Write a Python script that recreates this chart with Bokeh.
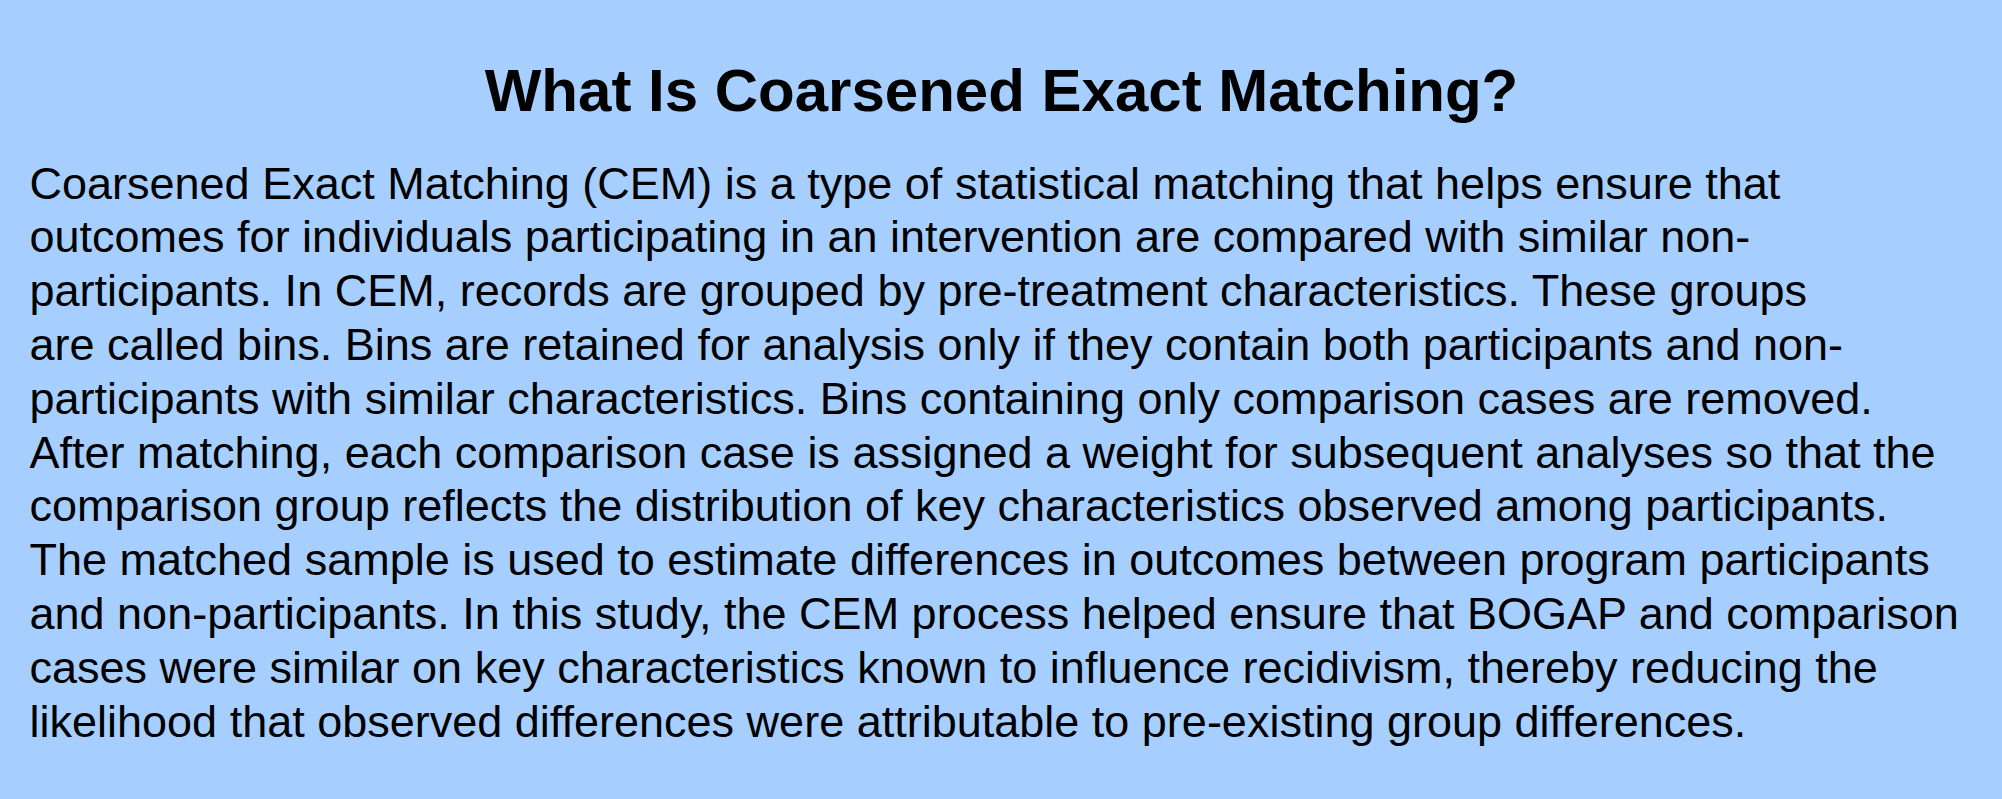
from bokeh.plotting import figure
from bokeh.models import Range1d, ColumnDataSource
from bokeh.core.properties import value
from bokeh.embed import file_html
from bokeh.resources import INLINE

TITLE = "What Is Coarsened Exact Matching?"
BODY_LINES = [
    "Coarsened Exact Matching (CEM) is a type of statistical matching that helps ensure that",
    "outcomes for individuals participating in an intervention are compared with similar non-",
    "participants. In CEM, records are grouped by pre-treatment characteristics. These groups",
    "are called bins. Bins are retained for analysis only if they contain both participants and non-",
    "participants with similar characteristics. Bins containing only comparison cases are removed.",
    "After matching, each comparison case is assigned a weight for subsequent analyses so that the",
    "comparison group reflects the distribution of key characteristics observed among participants.",
    "The matched sample is used to estimate differences in outcomes between program participants",
    "and non-participants. In this study, the CEM process helped ensure that BOGAP and comparison",
    "cases were similar on key characteristics known to influence recidivism, thereby reducing the",
    "likelihood that observed differences were attributable to pre-existing group differences.",
]

W, H = 2002, 799
BG = "#a6cfff"
FONT = "Liberation Sans"
K = 0.3  # baseline correction (em)

p = figure(width=W, height=H, x_range=Range1d(0, W), y_range=Range1d(H, 0),
           output_backend="svg", toolbar_location=None, min_border=0,
           title_location=None, x_axis_location=None, y_axis_location=None)
p.grid.visible = False
p.outline_line_color = None
p.background_fill_color = BG
p.border_fill_color = BG

title_size = 60
p.text(x=[W / 2], y=[108 - K * title_size], text=[TITLE], text_font=value(FONT),
       text_font_size=f"{title_size}px", text_font_style="bold", text_color="black",
       text_align="center", text_baseline="alphabetic")

body_size = 45
top, step = 196, 53.8
src = ColumnDataSource(dict(
    x=[29] * len(BODY_LINES),
    y=[top + i * step - K * body_size for i in range(len(BODY_LINES))],
    t=BODY_LINES,
))
p.text(x="x", y="y", text="t", source=src, text_font=value(FONT),
       text_font_size=f"{body_size}px", text_color="black",
       text_align="left", text_baseline="alphabetic")

tmpl = ("{% block preamble %}{{ super() }}<style>html,body{margin:0 !important;padding:0;"
        "overflow:hidden;background:" + BG + ";}</style>{% endblock %}")
open("out.html", "w").write(file_html(p, INLINE, template=tmpl))
